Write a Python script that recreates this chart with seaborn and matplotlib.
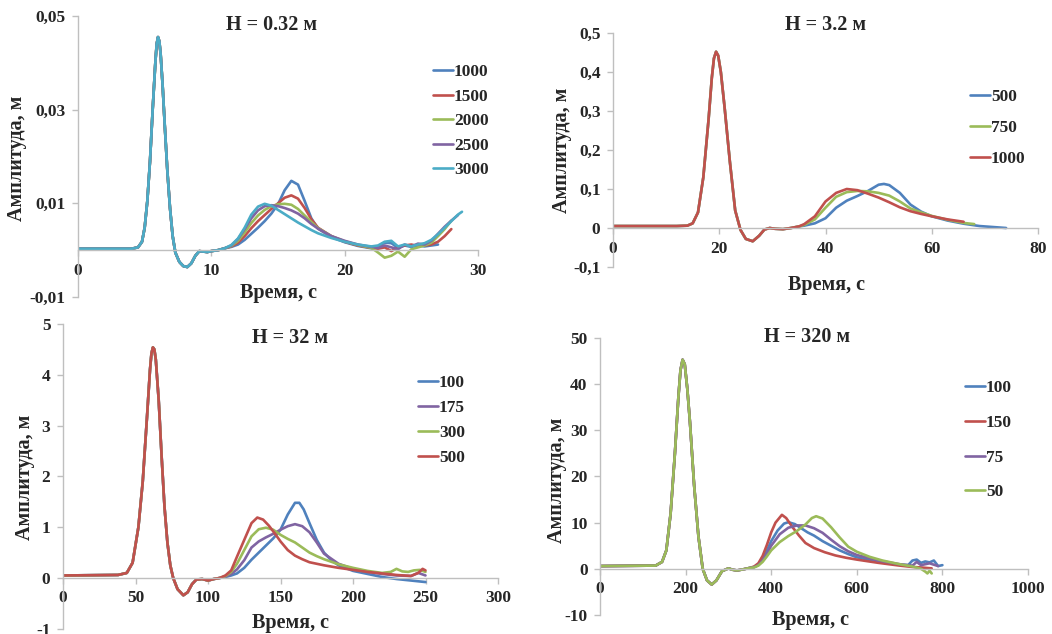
import numpy as np
import pandas as pd
import matplotlib
matplotlib.use("Agg")
import matplotlib.pyplot as plt
import seaborn as sns

sns.set_theme(style="white")
plt.rcParams["font.family"] = ["Liberation Serif", "DejaVu Serif"]
plt.rcParams["font.weight"] = "bold"

BLUE, RED, GREEN, PURPLE, CYAN = "#4F81BD", "#C0504D", "#9BBB59", "#8064A2", "#4BACC6"

# ---------------- H = 0.32 m ----------------
p1_pulse_t = [0, 4.0, 4.5, 4.8, 5.0, 5.2, 5.4, 5.6, 5.8, 5.9, 6.0, 6.1, 6.2, 6.35, 6.5, 6.7,
              6.9, 7.1, 7.3, 7.6, 7.9, 8.2, 8.5, 8.8, 9.1, 9.4, 9.7, 10.0, 10.5, 11.0]
p1_pulse_y = [0.0003, 0.0003, 0.0006, 0.0018, 0.0048, 0.0105, 0.019, 0.030, 0.040, 0.0440,
              0.0455, 0.0446, 0.0418, 0.035, 0.027, 0.017, 0.009, 0.003, -0.0005, -0.0025,
              -0.0034, -0.0036, -0.0028, -0.0012, -0.0002, -0.0003, -0.0004, -0.0002, 0.0,
              0.0004]
p1_tail_t = [11.5, 12, 12.5, 13, 13.5, 14, 14.5, 15, 15.5, 16, 16.5, 17, 17.5, 18, 19, 20, 21,
             22, 22.5, 23, 23.5, 24, 24.5, 25, 25.5, 26, 26.5, 27, 27.5, 28, 28.5, 28.8]
p1_1000 = [0.0007, 0.0012, 0.0022, 0.0035, 0.0048, 0.0062, 0.0078, 0.0098, 0.0128, 0.0148,
           0.0140, 0.0105, 0.0068, 0.0046, 0.0028, 0.0017, 0.0009, 0.0004, 0.0008, 0.0016,
           0.0015, 0.0005, 0.0010, 0.0007, 0.0010, 0.0008, 0.0010, 0.0012]
p1_1500 = [0.0008, 0.0016, 0.0030, 0.0047, 0.0062, 0.0075, 0.0088, 0.0100, 0.0112, 0.0117,
           0.0110, 0.0090, 0.0066, 0.0048, 0.0030, 0.0018, 0.0010, 0.0005, 0.0003, 0.0006,
           -0.0002, 0.0006, 0.0010, 0.0012, 0.0009, 0.0010, 0.0012, 0.0018, 0.0030, 0.0045]
p1_2000 = [0.0009, 0.0020, 0.0038, 0.0058, 0.0074, 0.0086, 0.0094, 0.0098, 0.0099, 0.0097,
           0.0088, 0.0074, 0.0060, 0.0047, 0.0030, 0.0019, 0.0011, 0.0005, -0.0005, -0.0016,
           -0.0012, -0.0003, -0.0014, 0.0002, 0.0006, 0.0010, 0.0016, 0.0030, 0.0045, 0.0063]
p1_2500 = [0.0010, 0.0024, 0.0045, 0.0068, 0.0085, 0.0094, 0.0096, 0.0094, 0.0090, 0.0085,
           0.0078, 0.0068, 0.0056, 0.0046, 0.0030, 0.0020, 0.0012, 0.0007, 0.0005, 0.0010,
           0.0006, 0.0002, 0.0012, 0.0008, 0.0014, 0.0012, 0.0020, 0.0035, 0.0050, 0.0063,
           0.0075]
p1_3000 = [0.0011, 0.0025, 0.0048, 0.0076, 0.0093, 0.0099, 0.0095, 0.0086, 0.0077, 0.0068,
           0.0059, 0.0051, 0.0043, 0.0036, 0.0026, 0.0018, 0.0012, 0.0008, 0.0010, 0.0018,
           0.0020, 0.0008, 0.0012, 0.0008, 0.0012, 0.0015, 0.0022, 0.0034, 0.0048, 0.0062,
           0.0076, 0.0082]
p1_labels = ["1000", "1500", "2000", "2500", "3000"]
p1_series = [p1_1000, p1_1500, p1_2000, p1_2500, p1_3000]
p1_colors = [BLUE, RED, GREEN, PURPLE, CYAN]

# ---------------- H = 3.2 m ----------------
p2_pulse_t = [0, 12, 14, 15, 16, 17, 18, 18.6, 19.0, 19.4, 19.8, 20.3, 21, 22, 23, 24, 25,
              26.3, 27.5, 28.5, 29.5, 30.5, 32, 33.5, 35]
p2_pulse_y = [0.005, 0.005, 0.006, 0.012, 0.04, 0.13, 0.28, 0.385, 0.435, 0.452, 0.442, 0.40,
              0.31, 0.17, 0.045, -0.005, -0.028, -0.034, -0.02, -0.004, 0.0, -0.002, -0.003,
              0.0, 0.004]
p2_tail_t = [36, 38, 40, 42, 44, 46, 48, 50, 51, 52, 54, 56, 58, 60, 63, 66, 69, 72, 74]
p2_500 = [0.006, 0.012, 0.025, 0.052, 0.070, 0.082, 0.095, 0.111, 0.113, 0.110, 0.090,
          0.060, 0.042, 0.030, 0.019, 0.011, 0.005, 0.002, 0.0]
p2_750_t = [36, 38, 40, 42, 44, 46, 48, 50, 52, 54, 56, 58, 60, 63, 66, 68]
p2_750 = [0.008, 0.022, 0.052, 0.080, 0.092, 0.095, 0.094, 0.090, 0.083, 0.068, 0.050,
          0.040, 0.031, 0.021, 0.013, 0.010]
p2_1000_t = [36, 38, 40, 42, 44, 46, 48, 50, 52, 54, 56, 58, 60, 63, 66]
p2_1000 = [0.010, 0.030, 0.068, 0.090, 0.100, 0.097, 0.088, 0.078, 0.066, 0.053, 0.043,
           0.036, 0.030, 0.022, 0.016]
p2_labels = ["500", "750", "1000"]
p2_colors = [BLUE, GREEN, RED]

# ---------------- H = 32 m ----------------
p3_pulse_t = [0, 38, 44, 48, 52, 55, 58, 60, 61, 62, 63, 64, 66, 68, 70, 72, 74, 76, 79, 83,
              86, 89, 92, 96, 100, 104, 108]
p3_pulse_y = [0.05, 0.06, 0.1, 0.3, 1.0, 1.9, 3.2, 4.1, 4.42, 4.54, 4.5, 4.3, 3.5, 2.4, 1.4,
              0.7, 0.25, 0.0, -0.22, -0.34, -0.28, -0.12, -0.03, -0.02, -0.05, -0.02, 0.0]
p3_100_t = [112, 116, 120, 125, 130, 135, 140, 145, 150, 155, 160, 163, 166, 170, 175, 180,
            185, 190, 200, 210, 220, 230, 240, 250]
p3_100 = [0.02, 0.05, 0.09, 0.2, 0.36, 0.5, 0.64, 0.78, 0.95, 1.25, 1.48, 1.48, 1.35, 1.08,
          0.75, 0.5, 0.35, 0.25, 0.14, 0.08, 0.02, -0.02, -0.05, -0.08]
p3_175_t = [112, 116, 120, 125, 130, 135, 140, 145, 150, 155, 160, 165, 170, 175, 180, 185,
            190, 200, 210, 220, 230, 240, 245, 250]
p3_175 = [0.03, 0.08, 0.17, 0.35, 0.6, 0.72, 0.8, 0.87, 0.95, 1.02, 1.06, 1.02, 0.9, 0.7,
          0.48, 0.38, 0.28, 0.18, 0.12, 0.08, 0.05, 0.04, 0.1, 0.05]
p3_300_t = [112, 116, 120, 125, 130, 135, 140, 145, 150, 155, 160, 165, 170, 175, 180, 190,
            200, 210, 220, 226, 230, 234, 238, 242, 246, 250]
p3_300 = [0.04, 0.12, 0.28, 0.55, 0.82, 0.96, 0.99, 0.95, 0.85, 0.77, 0.7, 0.6, 0.5, 0.43,
          0.37, 0.27, 0.2, 0.14, 0.1, 0.12, 0.18, 0.13, 0.12, 0.15, 0.16, 0.12]
p3_500_t = [112, 116, 120, 125, 130, 134, 138, 142, 146, 150, 155, 160, 165, 170, 180, 190,
            200, 210, 220, 230, 240, 245, 248, 250]
p3_500 = [0.05, 0.15, 0.42, 0.75, 1.08, 1.19, 1.15, 1.03, 0.88, 0.72, 0.55, 0.44, 0.37, 0.31,
          0.25, 0.2, 0.16, 0.12, 0.09, 0.06, 0.04, 0.1, 0.18, 0.15]
p3_labels = ["100", "175", "300", "500"]
p3_colors = [BLUE, PURPLE, GREEN, RED]

# ---------------- H = 320 m ----------------
p4_pulse_t = [0, 130, 145, 155, 165, 175, 183, 188, 193, 198, 204, 210, 220, 230, 240, 250,
              261, 272, 285, 300, 310, 320, 335, 350]
p4_pulse_y = [0.6, 0.7, 1.5, 4, 12, 25, 37, 43, 45.3, 44.3, 39, 32, 18, 7, 0.0, -2.5, -3.4,
              -2.5, -0.5, 0.1, -0.2, -0.35, -0.1, 0.2]
p4_100_t = [360, 370, 380, 390, 400, 415, 430, 440, 455, 470, 485, 500, 520, 540, 560, 580,
            600, 650, 700, 720, 730, 740, 750, 760, 770, 780, 790, 800]
p4_100 = [0.4, 0.9, 2.2, 4.0, 6.0, 8.3, 9.8, 10.1, 9.7, 8.8, 7.9, 7.2, 6.0, 5.0, 4.0, 3.2,
          2.5, 1.6, 0.9, 0.8, 1.8, 2.0, 1.3, 1.6, 1.4, 1.8, 0.6, 0.8]
p4_150_t = [360, 370, 380, 390, 400, 410, 425, 435, 450, 465, 480, 500, 525, 550, 575, 600,
            650, 700, 730, 750, 775]
p4_150 = [0.5, 1.2, 2.8, 5.2, 7.9, 10.0, 11.7, 11.0, 9.0, 7.2, 5.6, 4.5, 3.6, 2.9, 2.4, 2.0,
          1.3, 0.7, 0.4, 0.3, 0.1]
p4_75_t = [360, 370, 380, 390, 400, 420, 440, 460, 480, 500, 520, 540, 560, 580, 600, 650,
           700, 730, 740, 750, 770, 780, 790]
p4_75 = [0.35, 0.8, 1.8, 3.3, 5.0, 7.5, 8.9, 9.4, 9.4, 8.8, 7.8, 6.3, 4.9, 3.8, 3.0, 1.8,
         1.0, 0.7, 1.5, 0.8, 1.2, 0.9, 0.6]
p4_50_t = [360, 370, 380, 390, 400, 420, 440, 460, 480, 495, 505, 520, 540, 560, 580, 600,
           630, 660, 700, 730, 750, 760, 765, 770, 775]
p4_50 = [0.3, 0.7, 1.5, 2.7, 4.0, 5.8, 7.1, 8.2, 9.6, 11.0, 11.4, 10.9, 9.0, 6.8, 4.8, 3.7,
         2.6, 1.8, 1.0, 0.5, 0.0, -0.6, -1.0, -0.4, -1.0]
p4_labels = ["100", "150", "75", "50"]
p4_colors = [BLUE, RED, PURPLE, GREEN]


def build_frame(pulse_t, pulse_y, tails, labels):
    """Long table: every series = shared leading pulse + its own trailing part."""
    rows = []
    for lab, (tt, yy) in zip(labels, tails):
        t = list(pulse_t) + list(tt[:len(yy)])
        y = list(pulse_y) + list(yy)
        for a, b in zip(t, y):
            rows.append({"t": a, "y": b, "s": lab})
    return pd.DataFrame(rows)


panels = [
    dict(df=build_frame(p1_pulse_t, p1_pulse_y, [(p1_tail_t, s) for s in p1_series], p1_labels),
         labels=p1_labels, colors=p1_colors, box=(78, 16, 478, 297),
         xlim=(0, 30), xt=[0, 10, 20, 30], xtl=["0", "10", "20", "30"],
         ylim=(-0.01, 0.05), yt=[-0.01, 0.01, 0.03, 0.05],
         ytl=["-0,01", "0,01", "0,03", "0,05"], title="H = 0.32 м", title_xy=(272, 25),
         xlab_xy=(278, 293), ylab_xy=(17, 158), leg=(433, 64), spacing=0.48),
    dict(df=build_frame(p2_pulse_t, p2_pulse_y,
                        [(p2_tail_t, p2_500), (p2_750_t, p2_750), (p2_1000_t, p2_1000)],
                        p2_labels),
         labels=p2_labels, colors=p2_colors, box=(613, 33, 1038, 267),
         xlim=(0, 80), xt=[0, 20, 40, 60, 80], xtl=["0", "20", "40", "60", "80"],
         ylim=(-0.1, 0.5), yt=[-0.1, 0, 0.1, 0.2, 0.3, 0.4, 0.5],
         ytl=["-0,1", "0", "0,1", "0,2", "0,3", "0,4", "0,5"], title="H = 3.2 м",
         title_xy=(826, 25), xlab_xy=(826, 285), ylab_xy=(562, 150), leg=(970, 89),
         spacing=0.86),
    dict(df=build_frame(p3_pulse_t, p3_pulse_y,
                        [(p3_100_t, p3_100), (p3_175_t, p3_175), (p3_300_t, p3_300),
                         (p3_500_t, p3_500)], p3_labels),
         labels=p3_labels, colors=p3_colors, box=(63, 324, 498, 578 + 50.8),
         xlim=(0, 300), xt=[0, 50, 100, 150, 200, 250, 300],
         xtl=["0", "50", "100", "150", "200", "250", "300"],
         ylim=(-1, 5), yt=[-1, 0, 1, 2, 3, 4, 5], ytl=["-1", "0", "1", "2", "3", "4", "5"],
         title="H = 32 м", title_xy=(290, 338), xlab_xy=(290, 623), ylab_xy=(25, 477),
         leg=(418, 375), spacing=0.51),
    dict(df=build_frame(p4_pulse_t, p4_pulse_y,
                        [(p4_100_t, p4_100), (p4_150_t, p4_150), (p4_75_t, p4_75),
                         (p4_50_t, p4_50)], p4_labels),
         labels=p4_labels, colors=p4_colors, box=(600, 338, 1028, 615),
         xlim=(0, 1000), xt=[0, 200, 400, 600, 800, 1000],
         xtl=["0", "200", "400", "600", "800", "1000"],
         ylim=(-10, 50), yt=[-10, 0, 10, 20, 30, 40, 50],
         ytl=["-10", "0", "10", "20", "30", "40", "50"], title="H = 320 м",
         title_xy=(807, 337), xlab_xy=(810, 620), ylab_xy=(557, 480), leg=(965, 380),
         spacing=1.07),
]

W, H = 1052, 634
fig = plt.figure(figsize=(W / 100, H / 100), dpi=100)
fig.patch.set_facecolor("white")
AXC = "#BFBFBF"

for p in panels:
    x0, y0, x1, y1 = p["box"]
    ax = fig.add_axes([x0 / W, 1 - y1 / H, (x1 - x0) / W, (y1 - y0) / H])
    ax.set_facecolor("none")
    sns.lineplot(data=p["df"], x="t", y="y", hue="s", hue_order=p["labels"],
                 palette=dict(zip(p["labels"], p["colors"])), sort=False,
                 estimator=None, lw=1.9, ax=ax, legend=False)
    ax.set_xlim(*p["xlim"])
    ax.set_ylim(*p["ylim"])
    for side in ["top", "right"]:
        ax.spines[side].set_visible(False)
    ax.spines["bottom"].set_position(("data", 0))
    ax.spines["left"].set_position(("data", 0))
    for side in ["left", "bottom"]:
        ax.spines[side].set_color(AXC)
        ax.spines[side].set_linewidth(1.0)
    ax.set_xticks(p["xt"])
    ax.set_xticklabels(p["xtl"])
    ax.set_yticks(p["yt"])
    ax.set_yticklabels(p["ytl"])
    ax.tick_params(axis="both", direction="out", length=4, width=1, color=AXC,
                   labelsize=12.5, pad=5, bottom=True, left=True)
    for lab in ax.get_xticklabels() + ax.get_yticklabels():
        lab.set_fontweight("bold")
    ax.set_xlabel("")
    ax.set_ylabel("")

    tx, ty = p["title_xy"]
    fig.text(tx / W, 1 - ty / H, p["title"], ha="center", va="center",
             fontsize=14.5, fontweight="bold")
    lx, ly = p["xlab_xy"]
    fig.text(lx / W, 1 - ly / H, "Время, с", ha="center", va="center",
             fontsize=14.5, fontweight="bold")
    yx, yy = p["ylab_xy"]
    fig.text(yx / W, 1 - yy / H, "Амплитуда, м", ha="center", va="center",
             rotation=90, fontsize=14.5, fontweight="bold")

    handles = [plt.Line2D([], [], color=c, lw=1.9) for c in p["colors"]]
    lgx, lgy = p["leg"]
    leg = fig.legend(handles, p["labels"], loc="upper left",
                     bbox_to_anchor=(lgx / W, 1 - lgy / H), frameon=False,
                     fontsize=12.5, handlelength=1.15, handletextpad=0.05,
                     labelspacing=p["spacing"], borderaxespad=0, borderpad=0)
    for t in leg.get_texts():
        t.set_fontweight("bold")

fig.savefig("out.png", dpi=100, facecolor="white")
